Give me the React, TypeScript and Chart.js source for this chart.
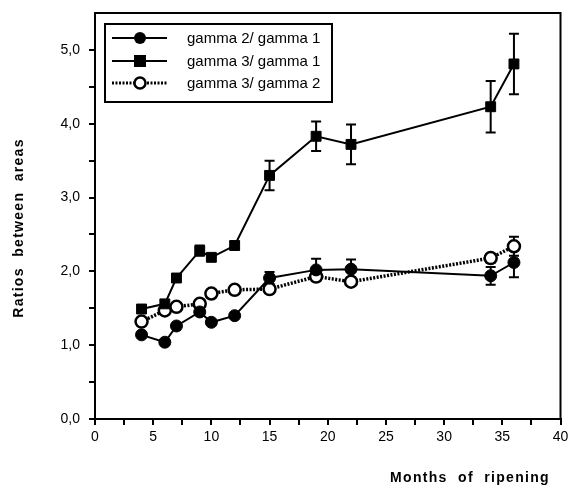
import React, { useEffect, useRef } from "react";
import { Chart, registerables } from "chart.js";

Chart.register(...registerables);

const months = [4, 6, 7, 9, 10, 12, 15, 19, 22, 34, 36];
const g21 = [1.14, 1.04, 1.26, 1.45, 1.31, 1.4, 1.91, 2.02, 2.03, 1.94, 2.12];
const g21Err = [0, 0, 0, 0, 0, 0, 0.08, 0.15, 0.13, 0.12, 0.2];
const g31 = [1.49, 1.56, 1.91, 2.28, 2.19, 2.35, 3.3, 3.83, 3.72, 4.23, 4.81];
const g31Err = [0, 0, 0, 0.07, 0, 0.05, 0.2, 0.2, 0.27, 0.35, 0.41];
const g32 = [1.32, 1.47, 1.52, 1.56, 1.7, 1.75, 1.76, 1.93, 1.86, 2.18, 2.34];
const g32Err = [0, 0, 0, 0, 0, 0.05, 0, 0, 0, 0.06, 0.13];

const seriesLabels = ["gamma 2/ gamma 1", "gamma 3/ gamma 1", "gamma 3/ gamma 2"];
const xTitle = "Months of ripening";
const yTitle = "Ratios between areas";

const FONT = "'Liberation Sans', Arial, sans-serif";

const toPts = (vals: number[]) => months.map((m, i) => ({ x: m, y: vals[i] }));

const errorSets = [g21Err, g31Err, g32Err];
const valueSets = [g21, g31, g32];

const errorBarPlugin = {
  id: "errorBars",
  beforeDatasetsDraw(chart: any) {
    const { ctx, scales } = chart;
    const xs = scales.x;
    const ys = scales.y;
    ctx.save();
    ctx.strokeStyle = "#000";
    ctx.lineWidth = 2;
    valueSets.forEach((vals, di) => {
      const errs = errorSets[di];
      vals.forEach((v, i) => {
        const e = errs[i];
        if (!e) return;
        const px = xs.getPixelForValue(months[i]);
        const top = ys.getPixelForValue(v + e);
        const bot = ys.getPixelForValue(v - e);
        ctx.beginPath();
        ctx.moveTo(px, top);
        ctx.lineTo(px, bot);
        ctx.moveTo(px - 5, top);
        ctx.lineTo(px + 5, top);
        ctx.moveTo(px - 5, bot);
        ctx.lineTo(px + 5, bot);
        ctx.stroke();
      });
    });
    ctx.restore();
  },
};

const framePlugin = {
  id: "frameAndText",
  afterDraw(chart: any) {
    const { ctx, chartArea } = chart;
    ctx.save();
    ctx.strokeStyle = "#000";
    ctx.lineWidth = 2;
    ctx.strokeRect(chartArea.left, chartArea.top, chartArea.right - chartArea.left, chartArea.bottom - chartArea.top);

    // axis titles
    ctx.fillStyle = "#000";
    ctx.font = `bold 14px ${FONT}`;
    (ctx as any).letterSpacing = "1.3px";
    ctx.textAlign = "center";
    ctx.textBaseline = "middle";
    ctx.fillText(xTitle.split(" ").join("  "), 470, 478);
    ctx.save();
    ctx.translate(19, 228);
    ctx.rotate(-Math.PI / 2);
    ctx.fillText(yTitle.split(" ").join("  "), 0, 0);
    ctx.restore();
    (ctx as any).letterSpacing = "0px";

    // legend
    const bx = 105, by = 24, bw = 227, bh = 78;
    ctx.lineWidth = 2;
    ctx.fillStyle = "#fff";
    ctx.fillRect(bx, by, bw, bh);
    ctx.strokeRect(bx, by, bw, bh);
    const rows = [38, 61, 83];
    const styles = ["circle", "rect", "open"];
    rows.forEach((ry, i) => {
      ctx.strokeStyle = "#000";
      if (styles[i] === "open") {
        ctx.lineWidth = 3;
        ctx.setLineDash([2, 1.5]);
      } else {
        ctx.lineWidth = 2;
        ctx.setLineDash([]);
      }
      ctx.beginPath();
      ctx.moveTo(112, ry);
      ctx.lineTo(167, ry);
      ctx.stroke();
      ctx.setLineDash([]);
      ctx.fillStyle = "#000";
      if (styles[i] === "circle") {
        ctx.beginPath();
        ctx.arc(140, ry, 6, 0, Math.PI * 2);
        ctx.fill();
      } else if (styles[i] === "rect") {
        ctx.fillRect(134, ry - 6, 12, 12);
      } else {
        ctx.beginPath();
        ctx.arc(140, ry, 5.5, 0, Math.PI * 2);
        ctx.fillStyle = "#fff";
        ctx.fill();
        ctx.lineWidth = 2.5;
        ctx.stroke();
      }
      ctx.fillStyle = "#000";
      ctx.font = `15px ${FONT}`;
      ctx.textAlign = "left";
      ctx.textBaseline = "middle";
      ctx.fillText(seriesLabels[i], 187, ry + 1);
    });
    ctx.restore();
  },
};

export default function App() {
  const ref = useRef<HTMLCanvasElement>(null);
  useEffect(() => {
    document.body.style.margin = "0";
    const canvas = ref.current!;
    const chart = new Chart(canvas, {
      type: "line",
      data: {
        datasets: [
          {
            label: seriesLabels[0],
            data: toPts(g21),
            borderColor: "#000",
            backgroundColor: "#000",
            borderWidth: 2,
            pointStyle: "circle",
            pointRadius: 6,
            pointBorderWidth: 1,
            pointBackgroundColor: "#000",
            pointBorderColor: "#000",
            tension: 0,
          },
          {
            label: seriesLabels[1],
            data: toPts(g31),
            borderColor: "#000",
            backgroundColor: "#000",
            borderWidth: 2,
            pointStyle: "rect",
            pointRadius: 7,
            pointBorderWidth: 1,
            pointBackgroundColor: "#000",
            pointBorderColor: "#000",
            tension: 0,
          },
          {
            label: seriesLabels[2],
            data: toPts(g32),
            borderColor: "#000",
            backgroundColor: "#fff",
            borderWidth: 3.5,
            borderDash: [2, 1.5],
            pointStyle: "circle",
            pointRadius: 6,
            pointBorderWidth: 2.5,
            pointBackgroundColor: "#fff",
            pointBorderColor: "#000",
            tension: 0,
          },
        ],
      },
      options: {
        responsive: false,
        animation: false,
        layout: { padding: { left: 0, top: 13, right: 6, bottom: 0 } },
        plugins: { legend: { display: false }, tooltip: { enabled: false } },
        scales: {
          x: {
            type: "linear",
            min: 0,
            max: 40,
            afterFit: (s: any) => {
              s.height = 66;
              s.paddingLeft = 0;
              s.paddingRight = 0;
            },
            afterBuildTicks: (s: any) => {
              const t = [];
              for (let v = 0; v <= 40; v += 2.5) t.push({ value: v });
              s.ticks = t;
            },
            ticks: {
              autoSkip: false,
              maxRotation: 0,
              color: "#000",
              padding: 4,
              font: { family: FONT, size: 14 },
              callback: (v: any) => (Number(v) % 5 === 0 ? String(v) : ""),
            },
            grid: { drawOnChartArea: false, drawTicks: true, tickLength: 6, color: "#000", lineWidth: 2 },
            border: { color: "#000", width: 2 },
          },
          y: {
            type: "linear",
            min: 0,
            max: 5.5,
            afterFit: (s: any) => {
              s.width = 95;
              s.paddingTop = 0;
              s.paddingBottom = 0;
            },
            afterBuildTicks: (s: any) => {
              const t = [];
              for (let v = 0; v <= 5.0001; v += 0.5) t.push({ value: Math.round(v * 10) / 10 });
              s.ticks = t;
            },
            ticks: {
              autoSkip: false,
              color: "#000",
              padding: 9,
              font: { family: FONT, size: 14 },
              callback: (v: any) => (Number(v) % 1 === 0 ? Number(v).toFixed(1).replace(".", ",") : ""),
            },
            grid: { drawOnChartArea: false, drawTicks: true, tickLength: 6, color: "#000", lineWidth: 2 },
            border: { color: "#000", width: 2 },
          },
        },
      },
      plugins: [errorBarPlugin, framePlugin],
    } as any);
    return () => chart.destroy();
  }, []);
  return (
    <div style={{ width: 569, height: 485 }}>
      <canvas ref={ref} width={569} height={485} style={{ width: 569, height: 485, display: "block" }} />
    </div>
  );
}
